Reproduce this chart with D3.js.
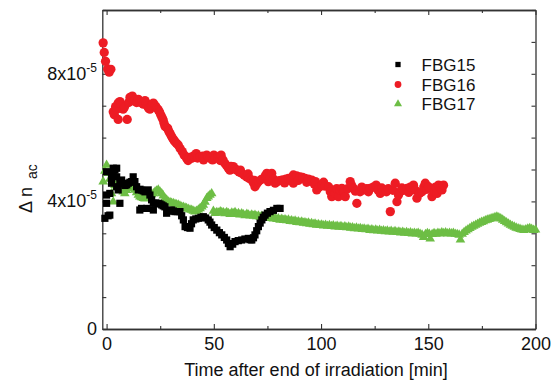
<!DOCTYPE html>
<html><head><meta charset="utf-8">
<script src="https://cdn.jsdelivr.net/npm/d3@7"></script>
<style>body{margin:0;background:#fff} svg{display:block} text{font-family:Arial,"Liberation Sans",sans-serif;fill:#111}</style>
</head><body><svg id="c" width="559" height="389"></svg>
<script>
// ---- data (y in units of 1e-5) ----
const xMajorTicks=[0,50,100,150,200];
const xMinorTicks=[25,75,125,175];
const yMajorTicks=[0,4,8];
const yTickMantissa=["0","4x10","8x10"];
const yTickExponent=["","-5","-5"];
const yMinorTicks=[1,2,3,5,6,7,9,10];
const seriesNames=["FBG15","FBG16","FBG17"];
const seriesColors=["#000000","#ed1c24","#6dbe45"];
const xTitle="Time after end of irradiation [min]";

const fbg15=[[-0.8,3.47],[0,3.94],[0.7,3.55],[1.5,3.57],[0,4.20],[1.5,4.25],[0,4.93],[2.3,4.72],[3.1,5.04],[3.9,4.98],[4.7,5.04],[3.1,4.88],[4.7,4.77],[2.3,4.57],[4.7,4.46],[5.4,4.36],[6.2,4.57],[6.2,3.94],[7.0,4.67],[7.8,4.55],[8.6,4.50],[9.4,4.52],[10.1,4.57],[10.9,4.60],[11.7,4.62],[12.4,4.77],[13.2,4.62],[14.0,4.46],[14.8,4.36],[15.5,3.73],[15.6,4.38],[16.3,4.36],[16.3,3.78],[17.1,4.33],[17.9,4.30],[18.7,3.78],[18.7,4.32],[19.4,4.36],[20.2,4.20],[21.0,4.05],[21.8,3.94],[21.8,3.73],[22.9,3.95],[24.1,3.94],[24.9,3.92],[25.7,3.89],[26.4,3.86],[27.2,3.83],[28.0,3.63],[28.8,3.70],[29.6,3.72],[30.3,3.73],[31.1,3.70],[31.9,3.68],[33.0,3.68],[34.2,3.68],[35.0,3.55],[35.8,3.42],[36.6,3.21],[37.7,3.18],[38.9,3.16],[39.6,3.30],[40.4,3.42],[41.6,3.45],[42.8,3.47],[44.0,3.50],[45.1,3.52],[46.2,3.48],[47.4,3.42],[48.2,3.35],[49.0,3.26],[50.2,3.18],[51.4,3.10],[52.6,3.02],[53.7,2.95],[54.9,2.87],[56.0,2.79],[56.8,2.68],[57.6,2.58],[58.8,2.66],[59.9,2.74],[61.4,2.77],[63.0,2.79],[64.5,2.82],[66.1,2.84],[66.9,2.80],[67.7,2.79],[68.5,2.86],[69.2,2.95],[70.0,3.08],[70.8,3.21],[71.6,3.32],[72.4,3.42],[73.1,3.50],[73.9,3.57],[75.0,3.63],[76.2,3.68],[77.8,3.72],[79.4,3.78],[80.9,3.78]];

const fbg16=[[-1.6,8.97],[-1.1,8.67],[-0.5,8.39],[0.5,8.15],[1.2,8.05],[2.0,8.14],[3.1,6.81],[3.6,6.72],[4.2,6.97],[4.8,6.90],[5.4,7.08],[5.4,6.57],[6.2,7.13],[6.8,7.05],[7.7,6.89],[8.3,6.95],[9.6,6.57],[10.3,7.10],[10.9,7.26],[11.5,7.22],[12.0,7.30],[12.6,7.15],[13.2,7.18],[14.0,7.10],[14.8,7.20],[15.5,7.12],[16.3,7.09],[17.1,7.05],[17.9,7.16],[18.5,7.08],[19.0,6.99],[19.6,6.92],[20.2,6.89],[21.0,7.00],[21.8,7.08],[22.4,7.02],[22.9,6.97],[23.5,6.92],[24.1,6.87],[24.7,6.80],[25.3,6.71],[25.9,6.62],[26.4,6.55],[26.8,6.45],[27.2,6.36],[27.9,6.32],[28.5,6.29],[29.0,6.20],[29.6,6.13],[30.2,6.05],[30.8,5.98],[31.4,5.92],[31.9,5.87],[32.6,5.82],[33.4,5.77],[34.3,5.66],[35.3,5.56],[36.2,5.45],[37.3,5.35],[38.0,5.28],[38.5,5.38],[39.7,5.35],[40.4,5.42],[41.2,5.40],[41.8,5.50],[42.4,5.36],[43.6,5.40],[44.8,5.42],[45.2,5.30],[45.8,5.38],[46.7,5.45],[47.4,5.40],[48.2,5.35],[49.4,5.30],[50.0,5.45],[50.6,5.35],[51.8,5.38],[52.6,5.40],[53.0,5.28],[53.4,5.45],[54.3,5.30],[55.2,5.19],[56.0,5.12],[56.8,5.04],[57.5,4.98],[58.0,5.10],[59.1,5.09],[59.9,5.02],[60.7,4.98],[61.8,4.92],[62.4,4.98],[63.0,4.88],[64.2,4.82],[65.4,4.77],[66.0,4.86],[66.5,4.72],[67.7,4.67],[68.5,4.58],[68.9,4.66],[69.2,4.46],[70.0,4.55],[70.8,4.62],[72.0,4.68],[73.1,4.72],[74.0,4.80],[74.7,4.88],[75.4,4.62],[76.2,4.75],[77.0,4.88],[77.8,4.70],[78.6,4.57],[79.5,4.62],[80.5,4.65],[81.7,4.67],[82.4,4.67],[83.0,4.58],[83.6,4.70],[84.8,4.72],[86.0,4.65],[87.1,4.57],[87.1,4.83],[88.6,4.80],[89.4,4.66],[90.2,4.77],[91.4,4.75],[92.6,4.72],[93.3,4.60],[94.1,4.70],[95.7,4.67],[96.8,4.55],[97.4,4.62],[98.0,4.36],[99.2,4.45],[100.4,4.51],[101.2,4.60],[101.9,4.48],[103.5,4.46],[104.3,4.30],[105.0,4.15],[106.5,4.25],[107.3,4.40],[108.1,4.15],[108.9,4.35],[109.7,4.41],[110.5,4.30],[111.3,4.15],[112.4,4.40],[113.6,4.62],[114.3,4.50],[115.1,4.41],[116.0,4.32],[116.7,3.94],[118.2,4.30],[119.0,4.45],[119.8,4.36],[121.3,4.40],[122.1,4.30],[122.9,4.41],[124.3,4.45],[125.7,4.51],[126.6,4.35],[127.6,4.25],[128.3,4.42],[129.0,4.35],[130.5,4.30],[131.4,4.40],[132.3,3.68],[133.5,4.35],[134.6,4.57],[135.4,3.99],[136.1,4.20],[136.9,4.30],[137.7,4.42],[138.5,4.35],[140.1,4.41],[140.9,4.28],[141.6,4.45],[143.1,4.51],[144.0,4.35],[144.7,4.10],[145.9,4.25],[147.1,4.30],[147.9,4.45],[148.6,4.57],[149.3,4.38],[150.1,4.46],[151.7,4.15],[152.9,4.30],[153.4,4.45],[154.1,4.25],[154.8,4.51],[155.7,4.42],[156.4,4.36],[157.1,4.51]];

const fbg17=[[-1.6,4.62],[-0.8,4.95],[0,5.14],[0.75,4.88],[1.5,4.70],[2.3,4.25],[3.1,3.99],[3.9,4.51],[4.7,4.45],[5.4,4.60],[6.2,4.57],[7.0,4.36],[7.7,4.30],[8.5,4.25],[9.3,4.35],[10.1,4.41],[10.9,4.45],[11.7,4.51],[12.4,4.42],[13.2,4.36],[14.0,4.28],[14.8,4.20],[15.5,4.15],[16.3,4.12],[17.1,4.10],[17.9,4.08],[18.7,4.12],[19.4,4.15],[20.2,4.20],[21.0,4.22],[21.8,4.25],[22.6,4.30],[23.3,4.33],[24.1,4.36],[24.9,4.30],[25.7,4.25],[26.4,4.18],[27.2,4.10],[28.0,4.05],[28.8,3.99],[29.6,3.97],[30.3,3.95],[31.1,3.94],[31.9,3.92],[32.6,3.90],[33.4,3.89],[34.2,3.86],[35.0,3.83],[35.8,3.82],[36.6,3.80],[37.3,3.78],[38.1,3.76],[38.9,3.74],[39.7,3.73],[40.4,3.70],[41.2,3.68],[42.0,3.70],[42.8,3.74],[43.6,3.78],[44.4,3.83],[45.1,3.89],[45.9,3.98],[46.7,4.10],[47.4,4.15],[48.2,4.20],[49.0,4.25],[49.8,3.70],[50.6,3.63],[51.4,3.66],[52.2,3.64],[53.0,3.68],[53.7,3.66],[54.5,3.65],[55.3,3.62],[56.0,3.66],[56.8,3.63],[57.6,3.60],[58.4,3.64],[59.1,3.62],[59.9,3.66],[60.7,3.60],[61.5,3.63],[62.2,3.58],[63.0,3.62],[63.8,3.59],[64.6,3.56],[65.4,3.60],[66.1,3.58],[66.9,3.55],[67.7,3.58],[68.5,3.54],[69.2,3.57],[70.0,3.53],[70.8,3.55],[71.6,3.51],[72.4,3.54],[73.1,3.50],[73.9,3.52],[74.7,3.48],[75.4,3.51],[76.2,3.47],[77.0,3.49],[77.8,3.46],[78.6,3.48],[79.4,3.44],[80.1,3.46],[80.9,3.42],[81.7,3.45],[82.5,3.41],[83.2,3.43],[84.0,3.40],[84.8,3.42],[85.6,3.38],[86.3,3.40],[87.1,3.37],[87.9,3.39],[88.7,3.35],[89.4,3.37],[90.2,3.34],[91.0,3.36],[91.8,3.32],[92.5,3.34],[93.3,3.31],[94.1,3.33],[94.8,3.29],[95.6,3.31],[96.4,3.28],[97.2,3.30],[97.9,3.26],[98.7,3.28],[99.5,3.25],[100.3,3.27],[101.2,3.24],[102.1,3.26],[103.0,3.23],[103.9,3.25],[104.8,3.22],[105.7,3.24],[106.6,3.21],[107.5,3.23],[108.4,3.20],[109.3,3.22],[110.2,3.19],[111.1,3.21],[112.0,3.18],[112.9,3.20],[113.8,3.17],[114.7,3.18],[115.6,3.15],[116.5,3.17],[117.4,3.14],[118.3,3.16],[119.2,3.13],[120.1,3.14],[121.0,3.12],[121.9,3.13],[122.8,3.10],[123.7,3.12],[124.6,3.09],[125.5,3.11],[126.4,3.08],[127.3,3.10],[128.2,3.07],[129.1,3.09],[130.0,3.06],[130.9,3.08],[131.8,3.05],[132.7,3.07],[133.6,3.04],[134.5,3.06],[135.4,3.03],[136.3,3.05],[137.2,3.02],[138.1,3.04],[139.0,3.01],[139.9,3.03],[140.8,3.00],[141.7,3.02],[142.6,2.99],[143.5,3.01],[144.4,2.99],[145.3,3.01],[146.2,2.98],[147.1,2.95],[147.8,2.88],[148.7,2.97],[149.6,3.00],[150.5,2.98],[150.9,2.83],[151.8,2.97],[152.7,3.00],[153.6,2.98],[154.5,3.01],[155.4,2.99],[156.3,3.02],[157.2,3.00],[158.1,3.02],[159.0,2.99],[159.9,3.01],[160.8,2.99],[161.7,3.01],[162.6,2.98],[163.5,2.97],[164.4,2.95],[165.0,2.80],[165.8,2.98],[166.7,3.03],[167.6,3.08],[168.5,3.12],[169.4,3.16],[170.3,3.20],[171.2,3.23],[172.1,3.26],[173.0,3.29],[173.9,3.32],[174.8,3.35],[175.7,3.37],[176.6,3.40],[177.5,3.42],[178.4,3.44],[179.3,3.46],[180.2,3.48],[181.1,3.50],[182.0,3.52],[182.9,3.49],[183.8,3.46],[184.7,3.42],[185.6,3.38],[186.5,3.34],[187.4,3.30],[188.3,3.26],[189.2,3.23],[190.1,3.20],[191.0,3.17],[191.9,3.15],[192.8,3.13],[193.7,3.11],[194.6,3.10],[195.5,3.12],[196.4,3.14],[197.3,3.16],[198.2,3.13],[199.1,3.10],[200.0,3.11]];

// ---- chart ----
const svg=d3.select("#c");
const x=d3.scaleLinear().domain([-2,200]).range([102.3,535.5]);
const y=d3.scaleLinear().domain([0,10]).range([329,10]);
const axisColor="#333";
const frame=svg.append("g");

function styleAxis(g){
  g.selectAll("path.domain").attr("stroke",axisColor).attr("stroke-width",1.3);
  g.selectAll(".tick line").attr("stroke",axisColor).attr("stroke-width",1.1);
  g.selectAll(".tick text").remove();
}
// bottom
const gB=frame.append("g").attr("transform",`translate(0,${y(0)})`)
  .call(d3.axisBottom(x).tickValues(xMajorTicks).tickSize(-5).tickSizeOuter(0).tickPadding(8));
gB.selectAll("path.domain").attr("stroke",axisColor).attr("stroke-width",1.3);
gB.selectAll(".tick line").attr("stroke",axisColor).attr("stroke-width",1.1);
gB.selectAll(".tick text").attr("font-size",18).attr("font-family","Arial, 'Liberation Sans', sans-serif").attr("fill","#111");
frame.append("g").attr("transform",`translate(0,${y(0)})`)
  .call(d3.axisBottom(x).tickValues(xMinorTicks).tickSize(-3).tickSizeOuter(0)).call(styleAxis);
// top
frame.append("g").attr("transform",`translate(0,${y(10)})`)
  .call(d3.axisTop(x).tickValues(xMajorTicks).tickSize(-5).tickSizeOuter(0)).call(styleAxis);
frame.append("g").attr("transform",`translate(0,${y(10)})`)
  .call(d3.axisTop(x).tickValues(xMinorTicks).tickSize(-3).tickSizeOuter(0)).call(styleAxis);
// left
frame.append("g").attr("transform",`translate(${x(-2)},0)`)
  .call(d3.axisLeft(y).tickValues(yMajorTicks.concat(yMinorTicks)).tickSize(-4).tickSizeOuter(0)).call(styleAxis);
// right
frame.append("g").attr("transform",`translate(${x(200)},0)`)
  .call(d3.axisRight(y).tickValues(yMajorTicks.concat(yMinorTicks)).tickSize(-4).tickSizeOuter(0)).call(styleAxis);

// y tick labels
yMajorTicks.forEach((v,i)=>{
  const t=svg.append("text").attr("x",97).attr("y",y(v)+6).attr("text-anchor","end").attr("font-size",18);
  t.append("tspan").text(yTickMantissa[i]);
  if(yTickExponent[i]) t.append("tspan").attr("font-size",12).attr("dy",-8).text(yTickExponent[i]);
});

// axis titles
svg.append("text").attr("x",316).attr("y",376).attr("text-anchor","middle").attr("font-size",18).text(xTitle);
const yt=svg.append("text").attr("transform","translate(32,213) rotate(-90)").attr("font-size",18);
yt.append("tspan").text("\u0394 n");
yt.append("tspan").attr("font-size",14).attr("dx",8).attr("dy",5).text("ac");

// marks
const plot=svg.append("g");
const symSquare=d3.symbol().type(d3.symbolSquare).size(52);
const symCircle=d3.symbol().type(d3.symbolCircle).size(68);
const symTri=d3.symbol().type(d3.symbolTriangle).size(40);
plot.selectAll("path.s16").data(fbg16).join("path").attr("class","s16")
  .attr("d",symCircle).attr("transform",d=>`translate(${x(d[0])},${y(d[1])})`).attr("fill",seriesColors[1]);
plot.selectAll("path.s17").data(fbg17).join("path").attr("class","s17")
  .attr("d",symTri).attr("transform",d=>`translate(${x(d[0])},${y(d[1])})`).attr("fill",seriesColors[2]);
plot.selectAll("path.s15").data(fbg15).join("path").attr("class","s15")
  .attr("d",symSquare).attr("transform",d=>`translate(${x(d[0])},${y(d[1])})`).attr("fill",seriesColors[0]);

// legend
const legY=[64.5,84.5,104];
const legSyms=[d3.symbol().type(d3.symbolSquare).size(28),d3.symbol().type(d3.symbolCircle).size(36),d3.symbol().type(d3.symbolTriangle).size(28)];
seriesNames.forEach((n,i)=>{
  svg.append("path").attr("d",legSyms[i]).attr("transform",`translate(398,${legY[i]})`).attr("fill",seriesColors[i]);
  svg.append("text").attr("x",421.5).attr("y",legY[i]+6).attr("font-size",17).text(n);
});
</script></body></html>
